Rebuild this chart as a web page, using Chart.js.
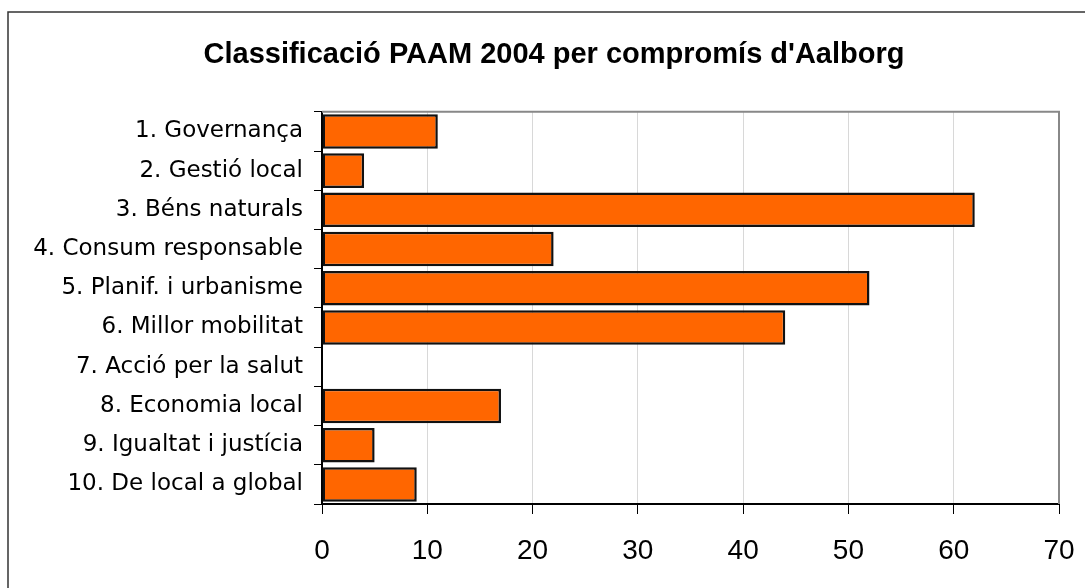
<!DOCTYPE html>
<html>
<head>
<meta charset="utf-8">
<script src="https://cdn.jsdelivr.net/npm/chart.js@4"></script>
<style>
  html, body { margin: 0; padding: 0; background: #fff; }
  #wrap { width: 1085px; height: 588px; position: relative; }
</style>
</head>
<body>
<div id="wrap"><canvas id="chart"></canvas></div>
<script>
var titleText = "Classificació PAAM 2004 per compromís d'Aalborg";
var categories = [
  '1. Governança',
  '2. Gestió local',
  '3. Béns naturals',
  '4. Consum responsable',
  '5. Planif. i urbanisme',
  '6. Millor mobilitat',
  '7. Acció per la salut',
  '8. Economia local',
  '9. Igualtat i justícia',
  '10. De local a global'
];
var counts = [11, 4, 62, 22, 52, 44, 0, 17, 5, 9];
var xMin = 0;
var xMax = 70;
var xStep = 10;

// outer frame, grey plot border, and title nudged to the frame centre
var frames = {
  id: 'frames',
  afterLayout: function(chart){
    if (chart.titleBlock) {
      chart.titleBlock.left += 22;
      chart.titleBlock.right += 22;
    }
  },
  beforeDraw: function(chart){
    var ctx = chart.ctx;
    ctx.save();
    ctx.fillStyle = '#fff';
    ctx.fillRect(0, 0, chart.width, chart.height);
    ctx.strokeStyle = '#333';
    ctx.lineWidth = 1.5;
    ctx.strokeRect(8, 12, chart.width + 20, chart.height + 20);
    ctx.restore();
  },
  afterDraw: function(chart){
    var a = chart.chartArea;
    var ctx = chart.ctx;
    ctx.save();
    ctx.strokeStyle = '#888';
    ctx.lineWidth = 2;
    ctx.beginPath();
    ctx.moveTo(a.left, a.top);
    ctx.lineTo(a.right, a.top);
    ctx.lineTo(a.right, a.bottom);
    ctx.stroke();
    ctx.restore();
  }
};

new Chart(document.getElementById('chart'), {
  type: 'bar',
  data: {
    labels: categories,
    datasets: [{
      data: counts,
      backgroundColor: '#ff6600',
      borderColor: '#111',
      borderWidth: 2.5,
      borderSkipped: false,
      categoryPercentage: 1,
      barPercentage: 0.88
    }]
  },
  options: {
    indexAxis: 'y',
    responsive: true,
    maintainAspectRatio: false,
    animation: false,
    layout: { padding: { left: 5, right: 26, top: 0, bottom: 0 } },
    plugins: {
      legend: { display: false },
      tooltip: { enabled: false },
      title: {
        display: true,
        text: titleText,
        color: '#000',
        font: { family: 'Liberation Sans', size: 29, weight: 'bold' },
        padding: { top: 38, bottom: 39 }
      }
    },
    scales: {
      x: {
        min: xMin,
        max: xMax,
        ticks: {
          stepSize: xStep,
          color: '#000',
          padding: 20,
          font: { family: 'Liberation Sans', size: 28 }
        },
        grid: { color: '#d8d8d8', tickColor: '#000', tickLength: 10, lineWidth: 1 },
        border: { color: '#000', width: 2 },
        afterFit: function(scale){
          scale.height = 84;
          scale.paddingLeft = 0;
          scale.paddingRight = 0;
        }
      },
      y: {
        ticks: {
          color: '#000',
          padding: 11,
          font: { family: 'DejaVu Sans', size: 23 }
        },
        grid: { offset: true, drawOnChartArea: false, tickColor: '#000', tickLength: 8 },
        border: { color: '#000', width: 2 },
        afterFit: function(scale){ scale.width = 317; }
      }
    }
  },
  plugins: [frames]
});
</script>
</body>
</html>
